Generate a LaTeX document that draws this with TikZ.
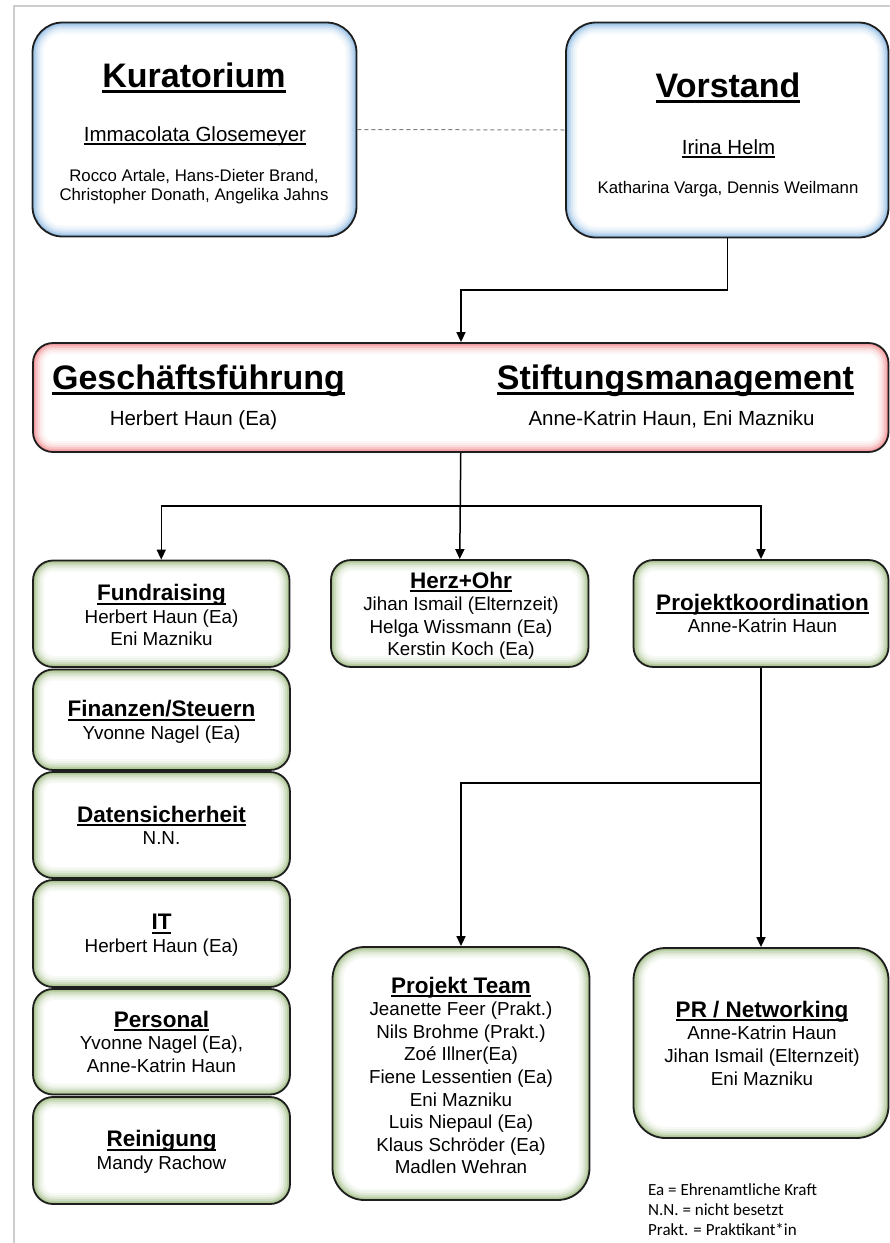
\documentclass[tikz,border=0pt]{standalone}
\usepackage{fontspec}
\setmainfont{Liberation Sans}
\newfontfamily\legendfont{Carlito}
\usetikzlibrary{arrows.meta}
\definecolor{blueglow}{RGB}{91,155,213}
\definecolor{redglow}{RGB}{235,95,100}
\definecolor{greenglow}{RGB}{120,160,80}
\definecolor{boxline}{RGB}{30,30,30}
\definecolor{pageframe}{RGB}{205,205,205}
\definecolor{dashgray}{RGB}{128,128,128}
\newcommand\ulx[1]{\setbox0\hbox{#1}\leavevmode\rlap{\rule[-0.18em]{\wd0}{0.085em}}\box0}
\newcommand\fBigT{\fontsize{34}{40}\selectfont\bfseries}
\newcommand\fName{\fontsize{20.5}{24}\selectfont}
\newcommand\fSmall{\fontsize{16.8}{19.5}\selectfont}
\newcommand\fHead{\fontsize{22.5}{22.6}\selectfont\bfseries}
\newcommand\fBody{\fontsize{18.8}{22.6}\selectfont}
\tikzset{
  glowbox/.style 2 args={draw=boxline, line width=1.8pt, rounded corners=#2, fill=white, inner sep=0pt,
    path picture={
      \foreach \gw/\gc in {22/6,18/12,14/22,10/36,6/52,3/66}{
        \draw[line width=\gw pt, draw=#1!\gc!white, fill=none, rounded corners=#2]
          (path picture bounding box.south west) rectangle (path picture bounding box.north east);
      }}},
  bluebox/.style={glowbox={blueglow}{30pt}},
  redbox/.style={glowbox={redglow}{20pt}},
  greenbox/.style={glowbox={greenglow}{20pt}},
  greenbig/.style={glowbox={greenglow}{32pt}},
  boxtext/.style={anchor=base, align=center, inner sep=0pt, font=\fBody},
  conn/.style={draw=black, line width=1.5pt, -{Triangle[length=10pt,width=9pt]}},
  dashline/.style={draw=dashgray, line width=1pt, dash pattern=on 4pt off 3pt},
}
\begin{document}
\begin{tikzpicture}[x=1pt,y=-1pt]
\useasboundingbox (0,0) rectangle (890,1243);
\draw[pageframe, line width=1.5pt] (14,1243) -- (14,6) -- (890,6);

% boxes
\node[bluebox, minimum width=324pt, minimum height=214pt] (kur) at (194.5,129.5) {};
\node[bluebox, minimum width=322.5pt, minimum height=215pt] (vor) at (727.25,130) {};
\node[redbox, minimum width=855.5pt, minimum height=109pt] (gf) at (460.75,397.5) {};
\node[greenbox, minimum width=256.5pt, minimum height=106.5pt] (fund) at (161.25,613.75) {};
\node[greenbox, minimum width=257pt, minimum height=100.5pt] (fin) at (161.5,719.75) {};
\node[greenbox, minimum width=257pt, minimum height=106pt] (dat) at (161.5,825) {};
\node[greenbox, minimum width=257pt, minimum height=107pt] (it) at (161.5,933.5) {};
\node[greenbox, minimum width=257pt, minimum height=105.5pt] (pers) at (161.5,1041.75) {};
\node[greenbox, minimum width=257pt, minimum height=107pt] (rein) at (161.5,1150.5) {};
\node[greenbox, minimum width=257.5pt, minimum height=107pt] (herz) at (459.75,613.5) {};
\node[greenbox, minimum width=255pt, minimum height=107pt] (pk) at (761,613.5) {};
\node[greenbig, minimum width=257pt, minimum height=253pt] (pt) at (461,1073.5) {};
\node[greenbig, minimum width=255pt, minimum height=190pt] (pr) at (761,1043) {};

% texts of the top boxes (anchor = baseline of the last line)
\node[boxtext, font=\fBigT] (kurT) at (194,87) {\ulx{Kuratorium}};
\node[boxtext, font=\fName] (kurN) at (195,141.5) {\ulx{Immacolata Glosemeyer}};
\node[boxtext, font=\fSmall] (kurM) at (194,200.5) {Rocco Artale, Hans-Dieter Brand,\\Christopher Donath, Angelika Jahns};
\node[boxtext, font=\fBigT] (vorT) at (728,97) {\ulx{Vorstand}};
\node[boxtext, font=\fName] (vorN) at (728.5,154) {\ulx{Irina Helm}};
\node[boxtext, font=\fSmall] (vorM) at (728,193) {Katharina Varga, Dennis Weilmann};
\node[boxtext, font=\fBigT] (gfT) at (198.5,389) {\ulx{Geschäftsführung}};
\node[boxtext, font=\fName] (gfN) at (193.5,425.5) {Herbert Haun (Ea)};
\node[boxtext, font=\fBigT] (smT) at (675.5,389) {\ulx{Stiftungsmanagement}};
\node[boxtext, font=\fName] (smN) at (671.5,425.5) {Anne-Katrin Haun, Eni Mazniku};

% texts of the small boxes (anchor = baseline of the last line)
\node[boxtext] (fundT) at (161.5,645.9) {{\fHead\ulx{Fundraising}}\\Herbert Haun (Ea)\\Eni Mazniku};
\node[boxtext] (finT) at (161.5,739.3) {{\fHead\ulx{Finanzen/Steuern}}\\Yvonne Nagel (Ea)};
\node[boxtext] (datT) at (161.5,844.6) {{\fHead\ulx{Datensicherheit}}\\N.N.};
\node[boxtext] (itT) at (161.5,952.1) {{\fHead\ulx{IT}}\\Herbert Haun (Ea)};
\node[boxtext] (persT) at (161.5,1072.2) {{\fHead\ulx{Personal}}\\Yvonne Nagel (Ea),\\Anne-Katrin Haun};
\node[boxtext] (reinT) at (161.5,1169.3) {{\fHead\ulx{Reinigung}}\\Mandy Rachow};
\node[boxtext] (herzT) at (461,655.8) {{\fHead\ulx{Herz+Ohr}}\\Jihan Ismail (Elternzeit)\\Helga Wissmann (Ea)\\Kerstin Koch (Ea)};
\node[boxtext] (pkT) at (762.5,632.6) {{\fHead\ulx{Projektkoordination}}\\Anne-Katrin Haun};
\node[boxtext] (ptT) at (461,1173.8) {{\fHead\ulx{Projekt Team}}\\Jeanette Feer (Prakt.)\\Nils Brohme (Prakt.)\\Zoé Illner(Ea)\\Fiene Lessentien (Ea)\\Eni Mazniku\\Luis Niepaul (Ea)\\Klaus Schröder (Ea)\\Madlen Wehran};
\node[boxtext] (prT) at (762,1085.1) {{\fHead\ulx{PR / Networking}}\\Anne-Katrin Haun\\Jihan Ismail (Elternzeit)\\Eni Mazniku};

% legend
\node[anchor=base west, align=left, inner sep=0pt, font=\legendfont\fontsize{17}{20}\selectfont] (leg) at (648,1235)
  {Ea = Ehrenamtliche Kraft\\N.N. = nicht besetzt\\Prakt. = Praktikant*in};

% connectors
\coordinate (j1) at (461,290);
\coordinate (j2) at (460.5,506);
\coordinate (j3) at (761,783);
\draw[dashline] (kur.east) -- (vor.west);
\draw[conn] (vor.south) |- (j1) -- (gf.north -| j1);
\draw[conn] (gf.south) -- (herz.north);
\draw[conn] (j2) -| (fund.north);
\draw[conn] (j2) -| (pk.north);
\draw[conn] (pk.south) -- (pr.north);
\draw[conn] (j3) -| (pt.north);
\end{tikzpicture}
\end{document}
